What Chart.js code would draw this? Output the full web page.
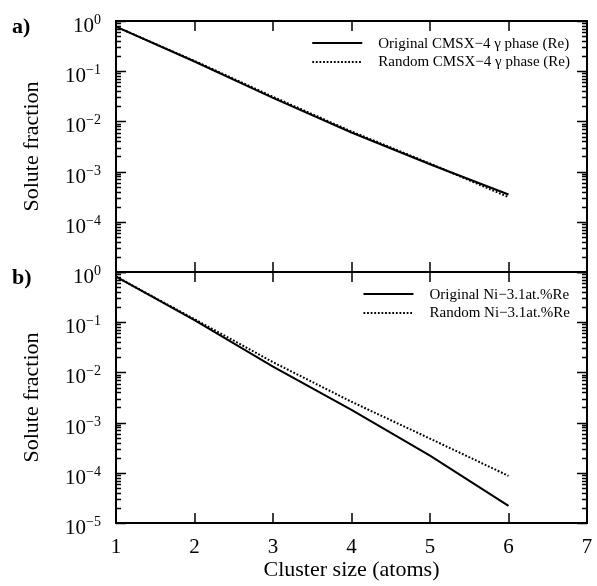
<!DOCTYPE html>
<html>
<head>
<meta charset="utf-8">
<script src="https://cdn.jsdelivr.net/npm/chart.js@4.4.1/dist/chart.umd.min.js"></script>
<style>
  html, body { margin: 0; padding: 0; background: #fff; }
  #wrap { position: relative; width: 597px; height: 586px; }
  #wrap canvas { position: absolute; left: 0; }
</style>
</head>
<body>
<div id="wrap">
  <canvas id="topChart" width="597" height="280" style="top:0"></canvas>
  <canvas id="botChart" width="597" height="336" style="top:250px"></canvas>
</div>
<script>
// cluster sizes (atoms) and solute fractions
const clusterSizes = [1, 2, 3, 4, 5, 6];
const cmsxOriginal = [0.77, 0.156, 0.0295, 0.0060, 0.00140, 0.00035];
const cmsxRandom   = [0.77, 0.160, 0.0310, 0.0063, 0.00145, 0.00031];
const niOriginal   = [0.81, 0.110, 0.0130, 0.0018, 0.00022, 0.000022];
const niRandom     = [0.81, 0.115, 0.0160, 0.0026, 0.00048, 0.000087];

const xTicks = [1, 2, 3, 4, 5, 6, 7];
const topExps = [0, -1, -2, -3, -4];
const botExps = [0, -1, -2, -3, -4, -5];

const FONT = "'Liberation Serif', 'Times New Roman', serif";

function pts(ys) {
    return clusterSizes.map((x, i) => ({ x: x, y: ys[i] }));
}

// frame, inward ticks, tick labels, titles and key, all placed via the chart scales
const decorPlugin = {
    id: 'decor',
    afterDraw(chart, args, opts) {
        const ctx = chart.ctx;
        const a = chart.chartArea;
        const xs = chart.scales.x, ys = chart.scales.y;
        ctx.save();
        ctx.strokeStyle = '#000';
        ctx.fillStyle = '#000';

        // x ticks (top and bottom, inward)
        ctx.lineWidth = 1.5;
        ctx.beginPath();
        xTicks.forEach(v => {
            const px = Math.round(xs.getPixelForValue(v));
            ctx.moveTo(px, a.top); ctx.lineTo(px, a.top + 10);
            ctx.moveTo(px, a.bottom); ctx.lineTo(px, a.bottom - 10);
        });
        // y ticks, major + minor, both sides
        for (let e = 0; e >= -5; e--) {
            for (let m = 1; m <= 9; m++) {
                const v = m * Math.pow(10, e);
                if (v > ys.max * 1.0001 || v < ys.min * 0.9999) continue;
                const py = Math.round(ys.getPixelForValue(v)) + 0.5;
                const len = m === 1 ? 10 : 5;
                ctx.moveTo(a.left, py); ctx.lineTo(a.left + len, py);
                ctx.moveTo(a.right, py); ctx.lineTo(a.right - len, py);
            }
        }
        ctx.stroke();

        // frame
        ctx.lineWidth = 2;
        ctx.strokeRect(a.left, a.top, a.right - a.left, a.bottom - a.top);

        // y tick labels 10^n
        ctx.textBaseline = 'alphabetic';
        opts.exps.forEach(e => {
            const py = ys.getPixelForValue(Math.pow(10, e));
            const base = '10';
            const sup = e === 0 ? '0' : '\u2212' + (-e);
            ctx.font = '21px ' + FONT;
            const bw = ctx.measureText(base).width;
            ctx.font = '14px ' + FONT;
            const sw = ctx.measureText(sup).width;
            const x0 = 101 - bw - sw;
            ctx.font = '21px ' + FONT;
            ctx.textAlign = 'left';
            ctx.fillText(base, x0, py + 11);
            ctx.font = '14px ' + FONT;
            ctx.fillText(sup, x0 + bw, py + 3);
        });

        // y title
        ctx.save();
        ctx.font = '22px ' + FONT;
        ctx.textAlign = 'center';
        ctx.textBaseline = 'middle';
        ctx.translate(32, (a.top + a.bottom) / 2);
        ctx.rotate(-Math.PI / 2);
        ctx.fillText('Solute fraction', 0, 0);
        ctx.restore();

        // panel letter
        ctx.font = 'bold 22px ' + FONT;
        ctx.textAlign = 'left';
        ctx.fillText(opts.panel, 12, a.top + opts.panelDy);

        // x tick labels + title
        if (opts.showX) {
            ctx.font = '21px ' + FONT;
            ctx.textAlign = 'center';
            xTicks.forEach(v => {
                ctx.fillText(String(v), xs.getPixelForValue(v), a.bottom + 30);
            });
            ctx.font = '22px ' + FONT;
            ctx.fillText('Cluster size (atoms)', (a.left + a.right) / 2, a.bottom + 53);
        }

        // key
        ctx.font = '15px ' + FONT;
        const dsets = chart.data.datasets;
        const tw = Math.max(...dsets.map(d => ctx.measureText(d.label).width));
        const tx = 570 - tw;
        dsets.forEach((d, i) => {
            const ky = a.top + 22 + i * 18.5;
            ctx.save();
            ctx.lineWidth = d.borderWidth;
            ctx.setLineDash(d.borderDash || []);
            ctx.beginPath();
            ctx.moveTo(tx - 66, Math.round(ky));
            ctx.lineTo(tx - 16, Math.round(ky));
            ctx.stroke();
            ctx.restore();
            ctx.textAlign = 'left';
            ctx.textBaseline = 'middle';
            ctx.fillText(d.label, tx, ky + 1);
        });
        ctx.restore();
    }
};

function makePanel(canvasId, origData, randData, origLabel, randLabel, padding, decor) {
    return new Chart(document.getElementById(canvasId), {
        type: 'line',
        data: {
            datasets: [
                { label: origLabel, data: pts(origData), borderColor: '#000', borderWidth: 2,
                  pointRadius: 0, tension: 0, fill: false },
                { label: randLabel, data: pts(randData), borderColor: '#000', borderWidth: 2,
                  borderDash: [1.8, 1.8], pointRadius: 0, tension: 0, fill: false }
            ]
        },
        options: {
            responsive: false,
            animation: false,
            devicePixelRatio: 1,
            layout: { padding: padding },
            scales: {
                x: { type: 'linear', min: 1, max: 7, display: false },
                y: { type: 'logarithmic', min: 1e-5, max: 1, display: false }
            },
            plugins: {
                legend: { display: false },
                tooltip: { enabled: false },
                decor: decor
            }
        },
        plugins: [decorPlugin]
    });
}

makePanel('topChart', cmsxOriginal, cmsxRandom,
    'Original CMSX\u22124 \u03b3 phase (Re)', 'Random CMSX\u22124 \u03b3 phase (Re)',
    { left: 116, right: 10, top: 21, bottom: 8 },
    { panel: 'a)', panelDy: 12, exps: topExps, showX: false });

makePanel('botChart', niOriginal, niRandom,
    'Original Ni\u22123.1at.%Re', 'Random Ni\u22123.1at.%Re',
    { left: 116, right: 10, top: 22, bottom: 63 },
    { panel: 'b)', panelDy: 12, exps: botExps, showX: true });
</script>
</body>
</html>
